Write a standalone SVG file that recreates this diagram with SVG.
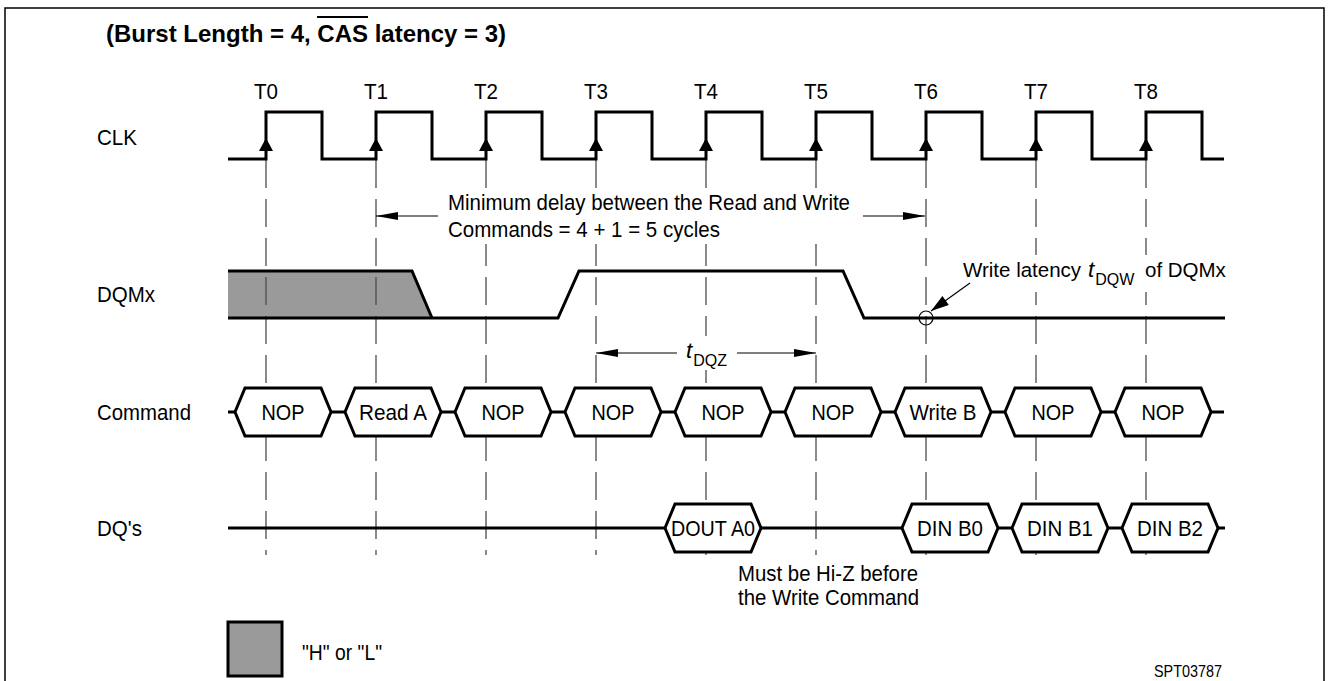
<svg xmlns="http://www.w3.org/2000/svg" xmlns:xlink="http://www.w3.org/1999/xlink" width="1330" height="681" viewBox="0 0 1330 681">
<style>
  text { font-family: "Liberation Sans", Arial, Helvetica, sans-serif; font-size: 22.5px; fill: #000; }
  .title { font-weight: bold; font-size: 24px; }
  .mid { text-anchor: middle; }
  .sub { font-size: 16px; }
  .it { font-style: italic; }
  .small { font-size: 17px; }
  .wave { fill: none; stroke: #000; stroke-width: 3; stroke-linejoin: miter; }
  .hex { fill: #fff; stroke: #000; stroke-width: 3; stroke-linejoin: miter; }
  .grid { stroke: #4d4d4d; stroke-width: 1.3; stroke-dasharray: 28 11; fill: none; }
  .dim { stroke: #000; stroke-width: 1.2; fill: none; marker-end: url(#ah); }
  .bg { fill: #fff; stroke: none; }
  .frame { stroke: #000; stroke-width: 1.5; fill: none; }
  .gray { fill: #9a9a9a; }
</style>
<defs>
  <marker id="ah" markerUnits="userSpaceOnUse" markerWidth="22" markerHeight="8" refX="22" refY="4" orient="auto" overflow="visible">
    <path d="M0,0 L22,4 L0,8 Z" fill="#000"/>
  </marker>
  <marker id="ah2" markerUnits="userSpaceOnUse" markerWidth="18" markerHeight="11" refX="18" refY="5.5" orient="auto" overflow="visible">
    <path d="M0,0 L18,5.5 L0,11 Z" fill="#000"/>
  </marker>
  <polygon id="clkArrow" points="0,138 -7,151 7,151" fill="#000"/>
  <polygon id="hexC" points="0,0 10,-24 86,-24 96,0 86,24 10,24"/>
</defs>

<rect x="0" y="0" width="1330" height="681" fill="#fff"/>

<g id="frame">
  <path class="frame" d="M5,681 V8 H1324 V681"/>
</g>

<g id="title">
  <text class="title" x="106" y="42">(Burst Length = 4, CAS latency = 3)</text>
  <line x1="317" y1="17" x2="368" y2="17" stroke="#000" stroke-width="1.8"/>
</g>

<g id="signal-labels">
  <text x="97" y="145" textLength="40" lengthAdjust="spacingAndGlyphs">CLK</text>
  <text x="97" y="302" textLength="58" lengthAdjust="spacingAndGlyphs">DQMx</text>
  <text x="97" y="420" textLength="94" lengthAdjust="spacingAndGlyphs">Command</text>
  <text x="97" y="536" textLength="45" lengthAdjust="spacingAndGlyphs">DQ's</text>
</g>

<g id="dqmx-gray">
  <polygon class="gray" points="228,271 412,271 432,318 228,318"/>
</g>

<g id="grid-lines">
  <line class="grid" x1="266" y1="160" x2="266" y2="555"/>
  <line class="grid" x1="376" y1="160" x2="376" y2="555"/>
  <line class="grid" x1="486" y1="160" x2="486" y2="555"/>
  <line class="grid" x1="596" y1="160" x2="596" y2="555"/>
  <line class="grid" x1="706" y1="160" x2="706" y2="555"/>
  <line class="grid" x1="816" y1="160" x2="816" y2="555"/>
  <line class="grid" x1="926" y1="160" x2="926" y2="555"/>
  <line class="grid" x1="1036" y1="160" x2="1036" y2="555"/>
  <line class="grid" x1="1146" y1="160" x2="1146" y2="555"/>
</g>

<g id="clk">
  <text class="mid" x="266" y="99" textLength="24" lengthAdjust="spacingAndGlyphs">T0</text>
  <text class="mid" x="376" y="99" textLength="24" lengthAdjust="spacingAndGlyphs">T1</text>
  <text class="mid" x="486" y="99" textLength="24" lengthAdjust="spacingAndGlyphs">T2</text>
  <text class="mid" x="596" y="99" textLength="24" lengthAdjust="spacingAndGlyphs">T3</text>
  <text class="mid" x="706" y="99" textLength="24" lengthAdjust="spacingAndGlyphs">T4</text>
  <text class="mid" x="816" y="99" textLength="24" lengthAdjust="spacingAndGlyphs">T5</text>
  <text class="mid" x="926" y="99" textLength="24" lengthAdjust="spacingAndGlyphs">T6</text>
  <text class="mid" x="1036" y="99" textLength="24" lengthAdjust="spacingAndGlyphs">T7</text>
  <text class="mid" x="1146" y="99" textLength="24" lengthAdjust="spacingAndGlyphs">T8</text>
  <path class="wave" d="M228,159 H266 V112 H322 V159 H376 V112 H432 V159 H486 V112 H542 V159 H596 V112 H652 V159 H706 V112 H762 V159 H816 V112 H872 V159 H926 V112 H982 V159 H1036 V112 H1092 V159 H1146 V112 H1202 V159 H1224"/>
  <use xlink:href="#clkArrow" x="266"/>
  <use xlink:href="#clkArrow" x="376"/>
  <use xlink:href="#clkArrow" x="486"/>
  <use xlink:href="#clkArrow" x="596"/>
  <use xlink:href="#clkArrow" x="706"/>
  <use xlink:href="#clkArrow" x="816"/>
  <use xlink:href="#clkArrow" x="926"/>
  <use xlink:href="#clkArrow" x="1036"/>
  <use xlink:href="#clkArrow" x="1146"/>
</g>

<g id="min-delay">
  <rect class="bg" x="444" y="191" width="412" height="53"/>
  <text x="448" y="210" textLength="402" lengthAdjust="spacingAndGlyphs">Minimum delay between the Read and Write</text>
  <text x="448" y="237" textLength="272" lengthAdjust="spacingAndGlyphs">Commands = 4 + 1 = 5 cycles</text>
</g>

<g id="dqmx">
  <path class="wave" d="M228,271 H412 L432,318"/>
  <path class="wave" d="M228,318 H558 L579,271 H843 L864,318 H1225"/>
  <circle cx="926" cy="318" r="7" fill="none" stroke="#000" stroke-width="1.2"/>
</g>

<g id="tdqz-label">
  <rect class="bg" x="680" y="336" width="52" height="34"/>
  <text x="686" y="358"><tspan class="it">t</tspan><tspan class="sub" dx="1" dy="8">DQZ</tspan></text>
</g>

<g id="write-latency-label">
  <rect class="bg" x="958" y="255" width="272" height="37"/>
  <text y="277" style="font-size:20.5px"><tspan x="963">Write latency</tspan><tspan x="1088" class="it" style="font-size:22.5px">t</tspan><tspan class="sub" dx="1" dy="8">DQW</tspan><tspan x="1145" dy="-8">of DQMx</tspan></text>
</g>

<g id="connectors">
  <line class="dim" x1="438" y1="216" x2="376" y2="216"/>
  <line class="dim" x1="863" y1="216" x2="925" y2="216"/>
  <line class="dim" x1="677" y1="353" x2="596" y2="353"/>
  <line class="dim" x1="737" y1="353" x2="816" y2="353"/>
  <line x1="970" y1="283" x2="931" y2="311" stroke="#000" stroke-width="1.2" marker-end="url(#ah2)"/>
</g>

<g id="command">
  <line class="wave" x1="228" y1="412" x2="1224" y2="412"/>
  <g id="cmd-t0"><use xlink:href="#hexC" class="hex" x="235" y="412"/><text class="mid" x="283" y="420" textLength="43" lengthAdjust="spacingAndGlyphs">NOP</text></g>
  <g id="cmd-t1"><use xlink:href="#hexC" class="hex" x="345" y="412"/><text class="mid" x="393" y="420" textLength="68" lengthAdjust="spacingAndGlyphs">Read A</text></g>
  <g id="cmd-t2"><use xlink:href="#hexC" class="hex" x="455" y="412"/><text class="mid" x="503" y="420" textLength="43" lengthAdjust="spacingAndGlyphs">NOP</text></g>
  <g id="cmd-t3"><use xlink:href="#hexC" class="hex" x="565" y="412"/><text class="mid" x="613" y="420" textLength="43" lengthAdjust="spacingAndGlyphs">NOP</text></g>
  <g id="cmd-t4"><use xlink:href="#hexC" class="hex" x="675" y="412"/><text class="mid" x="723" y="420" textLength="43" lengthAdjust="spacingAndGlyphs">NOP</text></g>
  <g id="cmd-t5"><use xlink:href="#hexC" class="hex" x="785" y="412"/><text class="mid" x="833" y="420" textLength="43" lengthAdjust="spacingAndGlyphs">NOP</text></g>
  <g id="cmd-t6"><use xlink:href="#hexC" class="hex" x="895" y="412"/><text class="mid" x="943" y="420" textLength="67" lengthAdjust="spacingAndGlyphs">Write B</text></g>
  <g id="cmd-t7"><use xlink:href="#hexC" class="hex" x="1005" y="412"/><text class="mid" x="1053" y="420" textLength="43" lengthAdjust="spacingAndGlyphs">NOP</text></g>
  <g id="cmd-t8"><use xlink:href="#hexC" class="hex" x="1115" y="412"/><text class="mid" x="1163" y="420" textLength="43" lengthAdjust="spacingAndGlyphs">NOP</text></g>
</g>

<g id="dq">
  <line class="wave" x1="228" y1="528" x2="1225" y2="528"/>
  <g id="dq-dout-a0"><use xlink:href="#hexC" class="hex" x="665" y="528"/><text class="mid" x="713" y="536" textLength="84" lengthAdjust="spacingAndGlyphs">DOUT A0</text></g>
  <g id="dq-din-b0"><use xlink:href="#hexC" class="hex" x="902" y="528"/><text class="mid" x="950" y="536" textLength="66" lengthAdjust="spacingAndGlyphs">DIN B0</text></g>
  <g id="dq-din-b1"><use xlink:href="#hexC" class="hex" x="1012" y="528"/><text class="mid" x="1060" y="536" textLength="66" lengthAdjust="spacingAndGlyphs">DIN B1</text></g>
  <g id="dq-din-b2"><use xlink:href="#hexC" class="hex" x="1122" y="528"/><text class="mid" x="1170" y="536" textLength="66" lengthAdjust="spacingAndGlyphs">DIN B2</text></g>
</g>

<g id="hiz-note">
  <text x="738" y="581" textLength="180" lengthAdjust="spacingAndGlyphs">Must be Hi-Z before</text>
  <text x="738" y="605" textLength="181" lengthAdjust="spacingAndGlyphs">the Write Command</text>
</g>

<g id="legend">
  <rect class="gray" x="228" y="622" width="54" height="54" stroke="#000" stroke-width="3"/>
  <text x="302" y="660" textLength="80" lengthAdjust="spacingAndGlyphs">"H" or "L"</text>
</g>

<g id="figure-id">
  <text class="small" x="1154" y="677" textLength="68" lengthAdjust="spacingAndGlyphs">SPT03787</text>
</g>
</svg>
